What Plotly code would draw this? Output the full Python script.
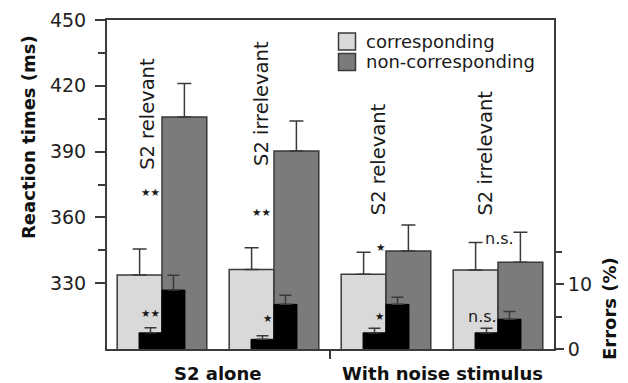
import plotly.graph_objects as go

# ---- data ----
groups = [0, 1, 2, 3]
group_text = ["S2 relevant", "S2 irrelevant", "S2 relevant", "S2 irrelevant"]
rt_corr = [333.7, 336.3, 334.1, 336.0]
rt_corr_err = [11.9, 9.9, 10.0, 12.5]
rt_non = [405.8, 390.3, 344.7, 339.5]
rt_non_err = [15.2, 13.7, 11.8, 13.7]
err_corr = [2.5, 1.5, 2.5, 2.5]
err_corr_err = [0.8, 0.55, 0.7, 0.7]
err_non = [9.1, 6.9, 6.9, 4.6]
err_non_err = [2.3, 1.4, 1.1, 1.2]
rt_sig = ["★★", "★★", "★", "n.s."]
err_sig = ["★★", "★", "★", "n.s."]
condition_labels = ["S2 alone", "With noise stimulus"]
rt_ticks = [330, 360, 390, 420, 450]
rt_minor = [345, 375, 405, 435]
err_ticks = [0, 10]
err_minor = [5, 15]

LIGHT = "#d9d9d9"
DARK = "#7b7b7b"
LINE = "#3a3a3a"
FONT = "DejaVu Sans"

fig = go.Figure()

W = 0.4
BW = 0.205
fig.add_trace(go.Bar(
    x=groups, y=rt_corr, base=0, offset=-W, width=W,
    marker=dict(color=LIGHT, line=dict(color=LINE, width=1.5)),
    error_y=dict(type="data", array=rt_corr_err, arrayminus=[0]*4, symmetric=False,
                 color=LINE, thickness=1.5, width=7),
    name="corresponding", showlegend=False, yaxis="y"))
fig.add_trace(go.Bar(
    x=groups, y=rt_non, base=0, offset=0, width=W,
    marker=dict(color=DARK, line=dict(color=LINE, width=1.5)),
    error_y=dict(type="data", array=rt_non_err, arrayminus=[0]*4, symmetric=False,
                 color=LINE, thickness=1.5, width=7),
    name="non-corresponding", showlegend=False, yaxis="y"))
fig.add_trace(go.Bar(
    x=groups, y=err_corr, offset=-BW, width=BW,
    marker=dict(color="black", line=dict(color="black", width=1)),
    error_y=dict(type="data", array=err_corr_err, arrayminus=[0]*4, symmetric=False,
                 color=LINE, thickness=1.5, width=6),
    showlegend=False, yaxis="y2"))
fig.add_trace(go.Bar(
    x=groups, y=err_non, offset=0, width=BW,
    marker=dict(color="black", line=dict(color="black", width=1)),
    error_y=dict(type="data", array=err_non_err, arrayminus=[0]*4, symmetric=False,
                 color=LINE, thickness=1.5, width=6),
    showlegend=False, yaxis="y2"))

annotations = []
text_dx = [-0.125, -0.116, -0.07, -0.107]
text_y = [407.2, 411.7, 386.6, 389.1]
for g, t, dx, ty in zip(groups, group_text, text_dx, text_y):
    annotations.append(dict(x=g + dx, y=ty, xref="x", yref="y", text=t, textangle=-90,
                            showarrow=False, font=dict(family=FONT, size=19.5, color="#1a1a1a")))
rt_sig_pos = [(-0.10, 371.5), (-0.11, 362.5), (-0.05, 346.5), (0.01, 350.5)]
err_sig_pos = [(-0.10, 316.5), (-0.055, 314.0), (-0.06, 315.0), (-0.14, 315.0)]
for s, (dx, yy), g in zip(rt_sig, rt_sig_pos, groups):
    annotations.append(dict(x=g + dx, y=yy, xref="x", yref="y", text=s, showarrow=False,
                            font=dict(family=FONT, size=(10.5 if "★" in s else 16), color="#1a1a1a")))
for s, (dx, yy), g in zip(err_sig, err_sig_pos, groups):
    annotations.append(dict(x=g + dx, y=yy, xref="x", yref="y", text=s, showarrow=False,
                            font=dict(family=FONT, size=(10.5 if "★" in s else 16), color="#1a1a1a")))
for i, lab in enumerate(condition_labels):
    annotations.append(dict(x=0.5 + 2 * i, y=(349 - 373.5) / 329, xref="x", yref="paper",
                            text="<b>%s</b>" % lab, showarrow=False, yanchor="middle", xanchor="center",
                            font=dict(family=FONT, size=18, color="#111")))
annotations.append(dict(x=(28 - 107) / 447, y=(349 - 137) / 329, xref="paper", yref="paper",
                        text="<b>Reaction times (ms)</b>", xanchor="center", yanchor="middle",
                        textangle=-90, showarrow=False, font=dict(family=FONT, size=18, color="#111")))
annotations.append(dict(x=(609 - 107) / 447, y=(349 - 309) / 329, xref="paper", yref="paper",
                        text="<b>Errors (%)</b>", xanchor="center", yanchor="middle",
                        textangle=-90, showarrow=False, font=dict(family=FONT, size=18, color="#111")))

# legend (drawn manually)
shapes = []
leg_names = ["corresponding", "non-corresponding"]
leg_cols = [LIGHT, DARK]
for i, (nm, c) in enumerate(zip(leg_names, leg_cols)):
    yc = 41.5 + 20.5 * i
    y0 = (349 - (yc - 8.5)) / 329
    y1 = (349 - (yc + 8.5)) / 329
    shapes.append(dict(type="rect", xref="paper", yref="paper",
                       x0=(338.5 - 107) / 447, x1=(355.5 - 107) / 447, y0=y1, y1=y0,
                       fillcolor=c, line=dict(color=LINE, width=1.5)))
    annotations.append(dict(x=(364 - 107) / 447, y=(349 - yc) / 329, xref="paper", yref="paper",
                            text=nm, showarrow=False, xanchor="left", yanchor="middle",
                            font=dict(family=FONT, size=18, color="#1a1a1a")))

fig.update_layout(
    width=628, height=383, autosize=False,
    margin=dict(l=107, r=74, t=20, b=34, pad=0),
    paper_bgcolor="white", plot_bgcolor="white",
    barmode="overlay", showlegend=False,
    font=dict(family=FONT, size=19, color="#222"),
    xaxis=dict(range=[-0.491, 3.5], showgrid=False, zeroline=False, showline=True, mirror=True,
               linecolor=LINE, linewidth=2, tickvals=[1.5], ticks="outside", ticklen=8,
               tickcolor=LINE, tickwidth=1.5, showticklabels=False),
    yaxis=dict(range=[300, 450], showgrid=False, zeroline=False, showline=True,
               linecolor=LINE, linewidth=2, tickvals=rt_ticks, ticks="outside", ticklen=10,
               tickcolor=LINE, tickwidth=1.5, automargin=False, ticklabelstandoff=5,
               minor=dict(tickvals=rt_minor, ticks="outside", ticklen=7, tickcolor=LINE, tickwidth=1.5),
               tickfont=dict(family=FONT, size=19, color="#222")),
    yaxis2=dict(range=[0, 50.85], overlaying="y", side="right", showgrid=False, zeroline=False,
                showline=True, linecolor=LINE, linewidth=2, tickvals=err_ticks, ticks="outside",
                ticklen=8, tickcolor=LINE, tickwidth=1.5, automargin=False,
                minor=dict(tickvals=err_minor, ticks="outside", ticklen=6, tickcolor=LINE, tickwidth=1.5),
                tickfont=dict(family=FONT, size=19, color="#222")),
    annotations=annotations, shapes=shapes,
)

fig.write_html("out.html", config={"displayModeBar": False},
               post_script="document.body.style.margin='0';")
